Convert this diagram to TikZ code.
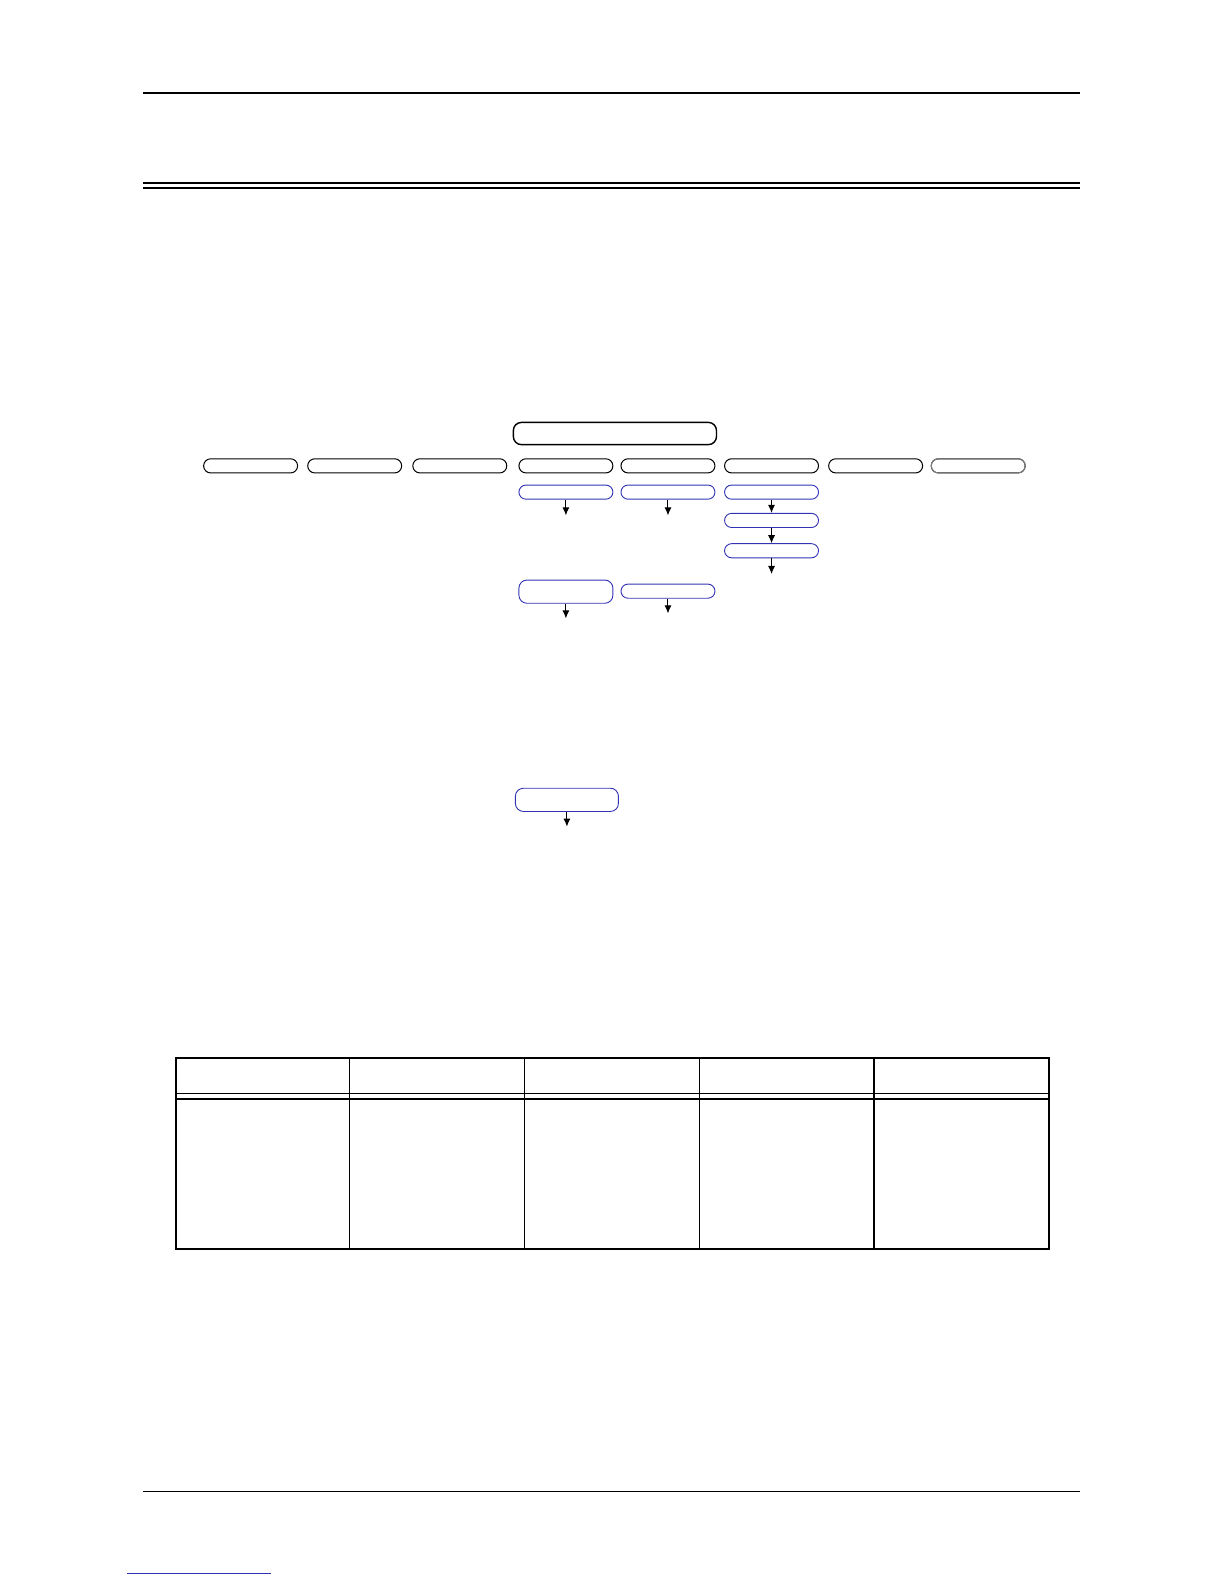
\documentclass[tikz,border=0pt]{standalone}
\usetikzlibrary{arrows.meta}
\definecolor{pillblue}{RGB}{50,50,180}
\tikzset{
  pill/.style={draw, rounded corners=3.5pt, minimum width=46.5pt, minimum height=7pt, inner sep=0pt, line width=0.5pt},
  bluepill/.style={pill, draw=pillblue, line width=0.45pt},
  downarrow/.style={-{Latex[length=4pt,width=3.5pt]}, line width=0.5pt}
}
\begin{document}
\begin{tikzpicture}[x=0.5pt, y=-0.5pt]
\useasboundingbox (0,0) rectangle (1211.5,1567.5);
% page rules
\draw[line width=0.6pt] (142,92) -- (1069,92);
\draw[line width=1pt] (142,181) -- (1069,181);
\draw[line width=1pt] (142,186.5) -- (1069,186.5);
\draw[line width=0.6pt] (142,1476) -- (1069,1476);
\draw[pillblue, line width=0.6pt] (126,1557) -- (268,1557);
% top box and row of menus
\node[draw, rounded corners=4pt, minimum width=100.5pt, minimum height=11pt, inner sep=0pt, line width=0.7pt] (top) at (608.5,429) {};
\foreach \x [count=\i] in {248,351,455,560,661,763.5,866.5,968}
  \node[pill] (m\i) at (\x,461) {};
\node[pill, draw=gray] at (m8) {};
% blue sub boxes
\node[bluepill] (b4a) at (560,487) {};
\node[bluepill] (b5a) at (661,487) {};
\node[bluepill] (b6a) at (763.5,487) {};
\node[bluepill] (b6b) at (763.5,515) {};
\node[bluepill] (b6c) at (763.5,545) {};
\node[bluepill, minimum height=11.5pt, rounded corners=4pt] (b4b) at (560,585.5) {};
\node[bluepill] (b5b) at (661,585) {};
\node[bluepill, minimum width=51pt, minimum height=11.5pt, rounded corners=4pt] (b7) at (561,791.5) {};
% arrows
\coordinate (a4a) at (560,510);
\coordinate (a5a) at (661,510);
\coordinate (a6c) at (763.5,568);
\coordinate (a4b) at (560,612);
\coordinate (a5b) at (661,607);
\coordinate (a7) at (561,818);
\draw[downarrow] (b4a.south) -- (a4a);
\draw[downarrow] (b5a.south) -- (a5a);
\draw[downarrow] (b6a.south) -- (b6b.north);
\draw[downarrow] (b6b.south) -- (b6c.north);
\draw[downarrow] (b6c.south) -- (a6c);
\draw[downarrow] (b4b.south) -- (a4b);
\draw[downarrow] (b5b.south) -- (a5b);
\draw[downarrow] (b7.south) -- (a7);
% empty table
\draw[line width=0.7pt] (174,1047) rectangle (1038,1236);
\foreach \x in {346,519,692,865}
  \draw[line width=0.7pt] (\x,1047) -- (\x,1236);
\draw[line width=0.7pt] (174,1082) -- (1038,1082);
\draw[line width=0.7pt] (174,1087.5) -- (1038,1087.5);
\end{tikzpicture}
\end{document}
